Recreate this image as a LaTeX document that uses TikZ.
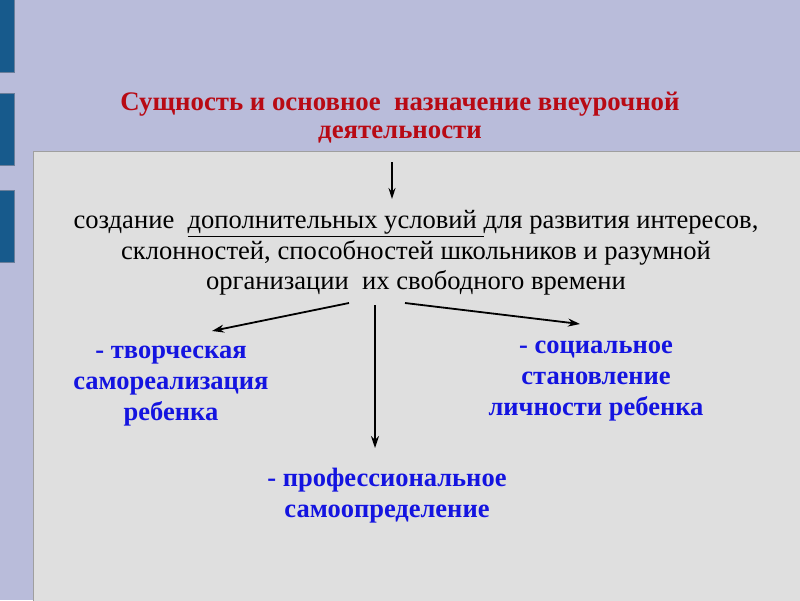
\documentclass[tikz,border=0pt]{standalone}
\usepackage{fontspec}
\setmainfont{Liberation Serif}
\usetikzlibrary{arrows.meta,calc}
\definecolor{bg}{HTML}{B9BCDA}
\definecolor{bar}{HTML}{175A8C}
\definecolor{barline}{HTML}{6A7E9A}
\definecolor{panel}{HTML}{DFDFDF}
\definecolor{titlered}{HTML}{B80A14}
\definecolor{blu}{HTML}{1414E0}
\tikzset{
  sidebar/.style={fill=bar, draw=barline, line width=0.8pt},
  titletext/.style={align=center, text=titlered, font=\bfseries\fontsize{26.8}{28}\selectfont, inner sep=0pt},
  bodytext/.style={align=center, text=black, font=\fontsize{26.6}{30.5}\selectfont, inner sep=0pt},
  bluetext/.style={align=center, text=blu, font=\bfseries\fontsize{26.5}{31}\selectfont, inner sep=0pt},
  arr/.style={-{Stealth[length=12pt,width=8pt]}, line width=1.8pt, black},
  arrthin/.style={-{Stealth[length=11pt,width=7pt]}, line width=1.4pt, black}
}
\begin{document}
\begin{tikzpicture}[x=1pt,y=-1pt]
\fill[bg] (0,0) rectangle (800,600);
\useasboundingbox (0,0) rectangle (800,600);
\draw[sidebar] (-1,-1) rectangle (14,72);
\draw[sidebar] (-1,93) rectangle (14,165);
\draw[sidebar] (-1,190) rectangle (14,262);
\fill[panel] (33,151) rectangle (801,601);
\draw[gray!75, line width=0.8pt] (33,601) -- (33,151) -- (801,151);

\node[titletext] (title) at (400,118) {Сущность и основное\ \ назначение внеурочной\\деятельности};
\node[bodytext] (body) at (416,253) {создание\ \ \underline{дополнительных условий\ }для развития интересов,\\склонностей, способностей школьников и разумной\\организации\ \ их свободного времени};
\node[bluetext] (left) at (171,386) {- творческая\\самореализация\\ребенка};
\node[bluetext] (right) at (596,381) {- социальное\\становление\\личности ребенка};
\node[bluetext] (mid) at (387,496) {- профессиональное\\самоопределение};

\coordinate (a0s) at (392,162);
\coordinate (a0e) at (392,199);
\coordinate (aLs) at (349,303);
\coordinate (aLe) at (212,331);
\coordinate (aMs) at (375,305);
\coordinate (aMe) at (375,448);
\coordinate (aRs) at (405,303);
\coordinate (aRe) at (580,324);
\draw[arrthin] (a0s) -- (a0e);
\draw[arr] (aLs) -- (aLe);
\draw[arr] (aMs) -- (aMe);
\draw[arr] (aRs) -- (aRe);
\end{tikzpicture}
\end{document}
